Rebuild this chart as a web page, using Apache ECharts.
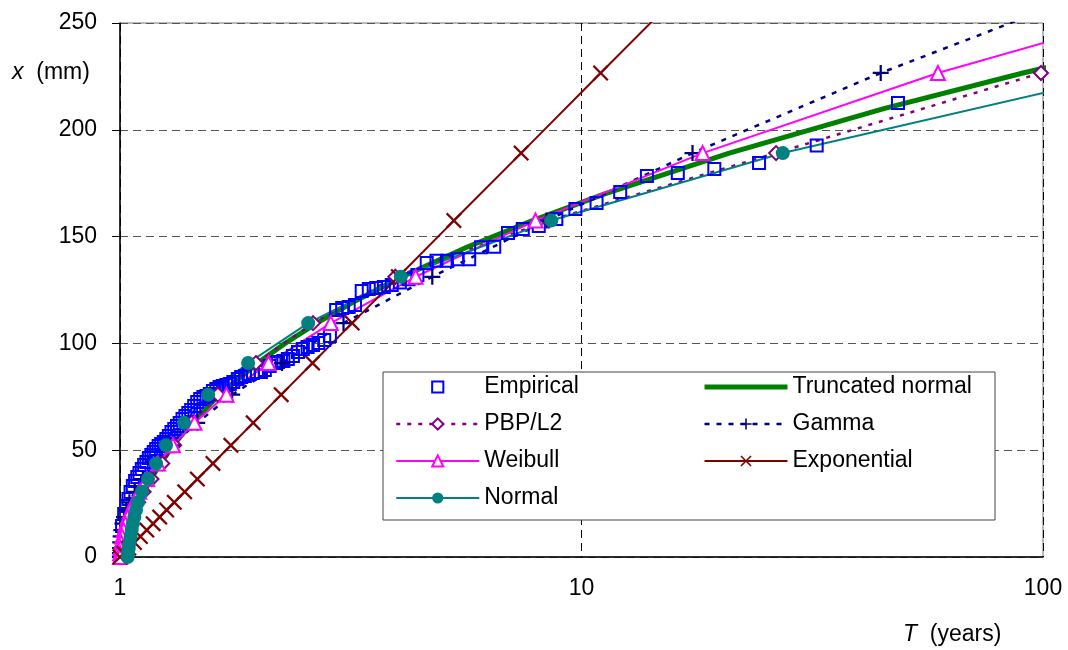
<!DOCTYPE html>
<html>
<head>
<meta charset="utf-8">
<script src="https://cdn.jsdelivr.net/npm/echarts@6/dist/echarts.min.js"></script>
<style>
  html, body { margin: 0; padding: 0; background: #fff; }
  #chart { width: 1068px; height: 650px; }
</style>
</head>
<body>
<div id="chart"></div>
<script>
// Empirical return periods T (years) of the ranked annual maxima
const empiricalT = [
  48.5, 32.33, 24.25, 19.4, 16.17, 13.86, 12.13, 10.78, 9.7, 8.82,
  8.08, 7.46, 6.93, 6.47, 6.06, 5.71, 5.39, 5.11, 4.85, 4.62,
  4.41, 4.22, 4.04, 3.88, 3.73, 3.59, 3.46, 3.34, 3.23, 3.13,
  3.03, 2.94, 2.85, 2.77, 2.69, 2.62, 2.55, 2.49, 2.43, 2.37,
  2.31, 2.26, 2.20, 2.16, 2.11, 2.06, 2.02, 1.98, 1.94, 1.90,
  1.865, 1.83, 1.80, 1.76, 1.73, 1.70, 1.67, 1.644, 1.617, 1.59,
  1.565, 1.54, 1.516, 1.492, 1.47, 1.448, 1.426, 1.406, 1.386, 1.366,
  1.347, 1.329, 1.311, 1.293, 1.276, 1.26, 1.244, 1.228, 1.2125, 1.1975,
  1.183, 1.169, 1.155, 1.141, 1.128, 1.115, 1.102, 1.09, 1.078, 1.066,
  1.054, 1.043, 1.032, 1.021, 1.0104
];
// Observed annual maxima x (mm), same order
const empiricalX = [
  212.5, 192.6, 184.5, 181.6, 179.8, 178.4, 170.9, 165.7, 162.9, 158.2,
  155.0, 153.6, 151.7, 145.3, 145.0, 139.4, 139.4, 138.7, 138.7, 137.6,
  132.0, 130.0, 128.5, 127.3, 126.4, 125.9, 125.5, 124.5, 118.0, 117.0,
  116.6, 115.6, 103.5, 101.6, 100.2, 99.3, 98.3, 97.4, 96.0, 94.1,
  92.7, 91.8, 91.3, 90.8, 89.4, 87.5, 86.6, 86.6, 86.1, 85.7,
  84.7, 84.3, 83.3, 81.9, 81.0, 80.5, 80.1, 79.6, 78.7, 77.7,
  76.3, 75.4, 74.9, 74.0, 72.6, 70.7, 68.8, 67.4, 66.0, 64.6,
  62.7, 61.3, 59.9, 58.5, 56.6, 55.2, 53.8, 52.9, 52.0, 50.6,
  49.2, 47.8, 46.3, 44.5, 43.1, 41.2, 39.3, 37.5, 35.6, 33.2,
  30.4, 27.2, 23.9, 20.1, 14.5
];

// Quantile levels x (mm) at which the fitted distributions are marked
const levelsX = [275, 226.6, 189.1, 157.5, 131.2, 109.5, 90.8, 76.0, 62.8, 52.3,
  43.8, 36.5, 30.5, 25.6, 22.0, 18.7, 15.6, 12.6, 9.6, 6.8, 4.2, 1.8, 0];

// Return periods T (years) of each fitted distribution at those levels
const pbpT = [500, 99, 26.4, 8.5, 3.95, 2.62, 1.97, 1.63, 1.43, 1.31,
  1.235, 1.17, 1.125, 1.095, 1.075, 1.058, 1.044, 1.032, 1.022, 1.014, 1.007, 1.002, 1.0];
const gammaT = [170, 44.5, 17.4, 8.4, 4.75, 3.05, 2.245, 1.75, 1.47, 1.295,
  1.19, 1.121, 1.076, 1.048, 1.032, 1.0204, 1.0124, 1.0068, 1.0032, 1.0012, 1.0003, 1.00003, 1.0];
const weibullT = [360, 59.2, 18.3, 7.95, 4.37, 2.862, 2.098, 1.701, 1.450, 1.302,
  1.2087, 1.1442, 1.1011, 1.072, 1.0537, 1.0393, 1.0279, 1.0186, 1.0112, 1.0058, 1.0024, 1.0005, 1.0];
const exponentialT = [18.4, 11.0, 7.40, 5.29, 4.01, 3.185, 2.614, 2.235, 1.944, 1.739,
  1.590, 1.471, 1.381, 1.311, 1.262, 1.219, 1.180, 1.143, 1.107, 1.075, 1.045, 1.019, 1.0];
const normalT = [3000, 154, 27.3, 8.6, 4.06, 2.557, 1.895, 1.552, 1.377, 1.258,
  1.197, 1.15, 1.116, 1.094, 1.083, 1.074, 1.066, 1.06, 1.054, 1.049, 1.045, 1.041, 1.039];

// Truncated normal curve (drawn without markers)
const truncX = [240, 226.6, 210, 189.1, 170, 157.5, 145, 131.2, 120, 109.5, 100, 90.8,
  76, 62.8, 52.3, 43.8, 36.5, 30.5, 25.6, 22, 18.7, 15.6, 12.6, 9.6, 6.8, 4.2, 1.8, 0];
const truncT = [166, 90.5, 45.4, 20.9, 11.23, 7.83, 5.64, 4.09, 3.244, 2.669, 2.278, 1.987,
  1.643, 1.430, 1.304, 1.2235, 1.1669, 1.1275, 1.0995, 1.081, 1.0656, 1.0523, 1.0404,
  1.0294, 1.0199, 1.0117, 1.0047, 1.0];

// Axis ticks
const xTicks = [1, 10, 100];
const yTicks = [0, 50, 100, 150, 200, 250];

const FONT = 'Liberation Sans, Arial, sans-serif';
const FS = 23;
const pairs = (ts, xs) => ts.map((t, i) => [t, xs[i]]);

const PLUS = 'path://M4.3,0H5.7V4.3H10V5.7H5.7V10H4.3V5.7H0V4.3H4.3Z';
const CROSS = 'path://M1,0L5,4L9,0L10,1L6,5L10,9L9,10L5,6L1,10L0,9L4,5L0,1Z';

const chart = echarts.init(document.getElementById('chart'), null, { renderer: 'canvas' });

const baseLine = {
  type: 'line',
  showAllSymbol: true,
  clip: true,
  silent: true,
  animation: false,
  emphasis: { disabled: true }
};

const legendText = { fontSize: FS, lineHeight: 24, color: '#000', fontFamily: FONT };
const legendBase = {
  orient: 'vertical', top: 375, padding: 0,
  itemWidth: 83, itemHeight: 14, itemGap: 13, z: 10,
  selectedMode: false,
  textStyle: legendText
};

const option = {
  animation: false,
  backgroundColor: '#fff',
  textStyle: { fontFamily: FONT },
  grid: {
    left: 120, right: 25, top: 23, bottom: 93,
    show: true, borderColor: '#777', borderWidth: 1,
    containLabel: false, outerBoundsMode: 'none'
  },
  xAxis: {
    type: 'log', logBase: 10,
    min: xTicks[0], max: xTicks[xTicks.length - 1],
    axisLine: { show: true, onZero: false, lineStyle: { color: '#000', width: 1.5 } },
    axisTick: { show: false },
    minorTick: { show: false },
    axisLabel: { fontSize: FS, color: '#000', margin: 20, fontFamily: FONT },
    splitLine: { show: true, lineStyle: { color: '#000', width: 1, type: [8, 5] } }
  },
  yAxis: {
    type: 'value',
    min: yTicks[0], max: yTicks[yTicks.length - 1], interval: 50,
    axisLine: { show: true, onZero: false, lineStyle: { color: '#000', width: 1.5 } },
    axisTick: { show: true, inside: false, length: 8, lineStyle: { color: '#000', width: 1 } },
    axisLabel: { fontSize: FS, color: '#000', margin: 23, fontFamily: FONT },
    splitLine: { show: true, lineStyle: { color: '#555', width: 1, type: [8, 5] } }
  },
  legend: [
    Object.assign({}, legendBase, {
      left: 395,
      data: [
        { name: 'Empirical' },
        { name: 'PBP/L2', lineStyle: { width: 2.5 } },
        { name: 'Weibull', lineStyle: { width: 2 } },
        { name: 'Normal', lineStyle: { width: 2 } }
      ]
    }),
    Object.assign({}, legendBase, {
      left: 702,
      data: [
        { name: 'Truncated normal', lineStyle: { width: 5 } },
        { name: 'Gamma', lineStyle: { width: 2.5 } },
        { name: 'Exponential', lineStyle: { width: 2 } }
      ]
    })
  ],
  graphic: [
    {
      type: 'rect', z: 8,
      shape: { x: 383, y: 372, width: 612, height: 148 },
      style: { fill: '#fff', stroke: '#444', lineWidth: 1 }
    },
    {
      type: 'text', x: 12, y: 73, z: 8,
      style: {
        text: '{i|x}  (mm)', fontSize: FS, fontFamily: FONT, fill: '#000',
        verticalAlign: 'middle',
        rich: { i: { fontStyle: 'italic', fontSize: FS, fontFamily: FONT } }
      }
    },
    {
      type: 'text', x: 903, y: 635, z: 8,
      style: {
        text: '{i|T}  (years)', fontSize: FS, fontFamily: FONT, fill: '#000',
        verticalAlign: 'middle',
        rich: { i: { fontStyle: 'italic', fontSize: FS, fontFamily: FONT } }
      }
    }
  ],
  series: [
    Object.assign({}, baseLine, {
      name: 'Empirical',
      data: pairs(empiricalT, empiricalX),
      symbol: 'rect', symbolSize: 12,
      lineStyle: { width: 0, opacity: 0, color: '#0000ff' },
      itemStyle: { color: 'rgba(0,0,0,0)', borderColor: '#0000ff', borderWidth: 2 }
    }),
    Object.assign({}, baseLine, {
      name: 'Truncated normal',
      data: pairs(truncT, truncX),
      symbol: 'none',
      lineStyle: { width: 5, color: '#008000' },
      itemStyle: { color: 'rgba(0,0,0,0)' }
    }),
    Object.assign({}, baseLine, {
      name: 'PBP/L2',
      data: pairs(pbpT, levelsX),
      symbol: 'diamond', symbolSize: 14,
      lineStyle: { width: 2.5, color: '#800080', type: [4, 7] },
      itemStyle: { color: '#fff', borderColor: '#800080', borderWidth: 2 }
    }),
    Object.assign({}, baseLine, {
      name: 'Gamma',
      data: pairs(gammaT, levelsX),
      symbol: PLUS, symbolSize: 16,
      lineStyle: { width: 2.5, color: '#000080', type: [5, 7] },
      itemStyle: { color: '#000080' }
    }),
    Object.assign({}, baseLine, {
      name: 'Weibull',
      data: pairs(weibullT, levelsX),
      symbol: 'triangle', symbolSize: 14,
      lineStyle: { width: 2, color: '#ff00ff' },
      itemStyle: { color: '#fff', borderColor: '#ff00ff', borderWidth: 2 }
    }),
    Object.assign({}, baseLine, {
      name: 'Exponential',
      data: pairs(exponentialT, levelsX),
      symbol: CROSS, symbolSize: 16,
      lineStyle: { width: 2, color: '#800000' },
      itemStyle: { color: '#800000' }
    }),
    Object.assign({}, baseLine, {
      name: 'Normal',
      data: pairs(normalT, levelsX),
      symbol: 'circle', symbolSize: 14,
      lineStyle: { width: 2, color: '#008080' },
      itemStyle: { color: '#008080' }
    })
  ]
};

chart.setOption(option);
</script>
</body>
</html>
